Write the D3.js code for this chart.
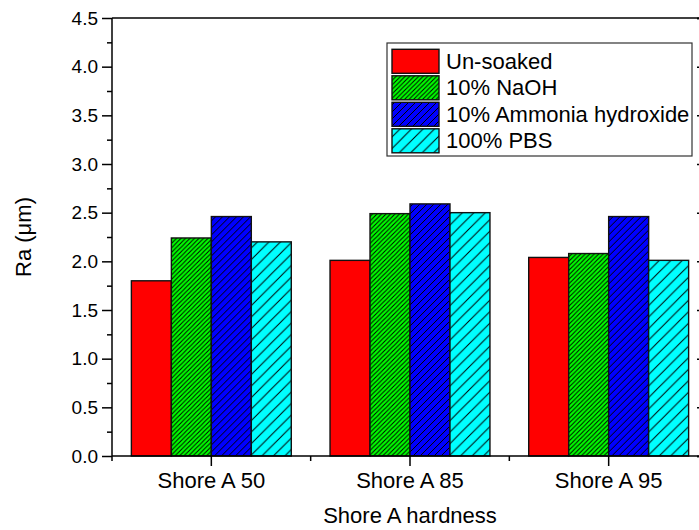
<!DOCTYPE html>
<html>
<head>
<meta charset="utf-8">
<script src="https://cdn.jsdelivr.net/npm/d3@7/dist/d3.min.js"></script>
<style>
  html, body { margin: 0; padding: 0; background: #fff; }
  svg { display: block; font-family: "Liberation Sans", Arial, sans-serif; }
</style>
</head>
<body>
<svg id="chart" width="699" height="530"></svg>
<script>
// ---- data ----
const categories = ["Shore A 50", "Shore A 85", "Shore A 95"];
const seriesNames = ["Un-soaked", "10% NaOH", "10% Ammonia hydroxide", "100% PBS"];
const unsoaked = [1.80, 2.01, 2.04];
const naoh     = [2.24, 2.49, 2.08];
const ammonia  = [2.46, 2.59, 2.46];
const pbs      = [2.20, 2.50, 2.01];
const yTicks = [0.0, 0.5, 1.0, 1.5, 2.0, 2.5, 3.0, 3.5, 4.0, 4.5];
const yMinorTicks = [0.25, 0.75, 1.25, 1.75, 2.25, 2.75, 3.25, 3.75, 4.25];
const xTitle = "Shore A hardness";
const yTitle = "Ra (μm)";

(function () {
const seriesValues = [unsoaked, naoh, ammonia, pbs];
const fills = ["#ff0000", "#00ff00", "#0000ff", "#00ffff"];
const hatchSpacing = [0, 4.5, 7, 11.5];

const svg = d3.select("#chart");
const mLeft = 112, mRight = 708, mTop = 18, mBottom = 456;

const x0 = d3.scaleBand().domain(categories).range([mLeft, mRight])
  .paddingInner(0.195).paddingOuter(0.0975);
const x1 = d3.scaleBand().domain(seriesNames).range([0, x0.bandwidth()]);
const y = d3.scaleLinear().domain([0, 4.5]).range([mBottom, mTop]);

// patterns
const defs = svg.append("defs");
seriesNames.forEach((s, i) => {
  if (!hatchSpacing[i]) return;
  const sp = hatchSpacing[i];
  const p = defs.append("pattern").attr("id", "hatch" + i)
    .attr("patternUnits", "userSpaceOnUse").attr("width", sp).attr("height", sp);
  p.append("rect").attr("width", sp).attr("height", sp).attr("fill", fills[i]);
  p.append("path").attr("d", `M0,${sp} L${sp},0 M${-sp/2},${sp/2} L${sp/2},${-sp/2} M${sp/2},${sp*1.5} L${sp*1.5},${sp/2}`)
    .attr("stroke", "#000").attr("stroke-width", 1);
});
const fillFor = i => hatchSpacing[i] ? `url(#hatch${i})` : fills[i];

// bars
const groups = svg.append("g").selectAll("g").data(categories).join("g")
  .attr("transform", c => `translate(${x0(c)},0)`);
groups.selectAll("rect")
  .data((c, ci) => seriesNames.map((s, si) => ({ s, si, v: seriesValues[si][ci] })))
  .join("rect")
  .attr("x", d => x1(d.s))
  .attr("width", x1.bandwidth())
  .attr("y", d => y(d.v))
  .attr("height", d => y(0) - y(d.v))
  .attr("fill", d => fillFor(d.si))
  .attr("stroke", "#111")
  .attr("stroke-width", 1.4);

// axes
const yAxis = d3.axisLeft(y).tickValues(yTicks).tickFormat(d3.format(".1f")).tickSize(10).tickPadding(4);
const gy = svg.append("g").attr("transform", `translate(${mLeft},0)`).call(yAxis);
gy.selectAll("text").attr("font-size", 19).attr("fill", "#000").attr("font-family", "Liberation Sans, Arial, sans-serif");
gy.selectAll("line, path").attr("stroke", "#000").attr("stroke-width", 1.5);
gy.select(".domain").attr("d", `M0,${mBottom}V${mTop}`);
svg.append("g").attr("transform", `translate(${mLeft},0)`)
  .call(d3.axisLeft(y).tickValues(yMinorTicks).tickSize(5).tickFormat(""))
  .call(g => g.select(".domain").remove())
  .selectAll("line").attr("stroke", "#000").attr("stroke-width", 1.5);

// right mirror axis
svg.append("g").attr("transform", `translate(${mRight},0)`)
  .call(d3.axisRight(y).tickValues(yTicks).tickSize(-11).tickFormat(""))
  .selectAll("line, path").attr("stroke", "#000").attr("stroke-width", 1.5);

// bottom axis
const centers = categories.map(c => x0(c) + x0.bandwidth() / 2);
const gx = svg.append("g").attr("transform", `translate(0,${mBottom})`)
  .call(d3.axisBottom(x0).tickSize(10).tickPadding(6));
gx.selectAll("text").attr("font-size", 22).attr("fill", "#000").attr("font-family", "Liberation Sans, Arial, sans-serif");
gx.selectAll("line, path").attr("stroke", "#000").attr("stroke-width", 1.5);
gx.select(".domain").attr("d", `M${mLeft},0H${mRight}`);
const boundaries = categories.map((c, i) => (i === 0 ? mLeft : (centers[i - 1] + centers[i]) / 2));
svg.append("g").selectAll("line").data(boundaries).join("line")
  .attr("x1", d => d).attr("x2", d => d).attr("y1", mBottom).attr("y2", mBottom + 5)
  .attr("stroke", "#000").attr("stroke-width", 1.5);

// top frame
svg.append("line").attr("x1", mLeft).attr("x2", mRight).attr("y1", y(4.5)).attr("y2", y(4.5))
  .attr("stroke", "#000").attr("stroke-width", 1.5);

// titles
svg.append("text").attr("x", centers[1]).attr("y", 523)
  .attr("text-anchor", "middle").attr("font-size", 22).text(xTitle);
svg.append("text").attr("transform", `translate(31,${(mTop + mBottom) / 2}) rotate(-90)`)
  .attr("text-anchor", "middle").attr("font-size", 22).text(yTitle);

// legend
const lg = svg.append("g");
lg.append("rect").attr("x", 387).attr("y", 43).attr("width", 305).attr("height", 113)
  .attr("fill", "#fff").attr("stroke", "#333").attr("stroke-width", 1.2);
seriesNames.forEach((s, i) => {
  const cy = 61.3 + i * 26.5;
  lg.append("rect").attr("x", 392).attr("y", cy - 12).attr("width", 47).attr("height", 24)
    .attr("fill", fillFor(i)).attr("stroke", "#111").attr("stroke-width", 1.4);
  lg.append("text").attr("x", 446).attr("y", cy + 7.5).attr("font-size", 22).text(s);
});
})();
</script>
</body>
</html>
